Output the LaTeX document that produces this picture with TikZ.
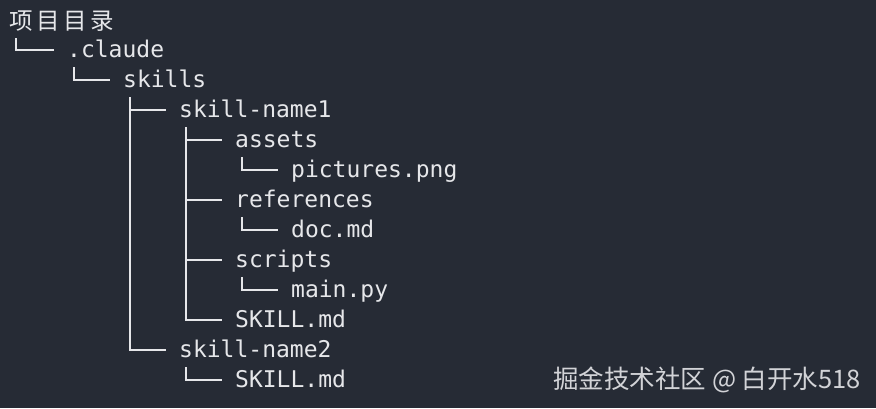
\documentclass[tikz,border=0pt]{standalone}
\usepackage{fontspec}
\setmonofont{DejaVu Sans Mono}
\newfontfamily\cjkfont{Noto Sans CJK SC}
\newfontfamily\cjkwide[LetterSpace=15]{Noto Sans CJK SC}
\usetikzlibrary{calc}

\definecolor{termbg}{HTML}{262B35}
\definecolor{termfg}{HTML}{E6E7EA}
\definecolor{markfg}{HTML}{D2D3D7}

\tikzset{
  entry/.style={anchor=west, inner sep=0pt, text height=14pt, text depth=0pt,
    text=termfg, font=\ttfamily\fontsize{23}{23}\selectfont},
  title/.style={anchor=west, inner sep=0pt, text=termfg,
    font=\cjkwide\fontsize{23.5}{23.5}\selectfont},
  branch/.style={draw=termfg, line width=1.8pt},
}

% tree connector: down from the parent's first column, across to the child
\newcommand{\treelink}[2]{\draw[branch] ($(#1.west)+(7,17)$) |- ([xshift=-13pt]#2.west);}

\begin{document}
\begin{tikzpicture}[x=1pt, y=-1pt]

% Terminal background
\fill[termbg] (0,0) rectangle (876,408);
\useasboundingbox (0,0) rectangle (876,408);

% Entries
\node[title] (root) at (9,21) {项目目录};
\node[entry] (claude)   at (67,50)   {.claude};
\node[entry] (skills)   at (123,80)  {skills};
\node[entry] (nameA)    at (179,110) {skill-name1};
\node[entry] (assets)   at (235,140) {assets};
\node[entry] (pictures) at (291,170) {pictures.png};
\node[entry] (refs)     at (235,200) {references};
\node[entry] (doc)      at (291,230) {doc.md};
\node[entry] (scripts)  at (235,260) {scripts};
\node[entry] (mainpy)   at (291,290) {main.py};
\node[entry] (skillA)   at (235,320) {SKILL.md};
\node[entry] (nameB)    at (179,350) {skill-name2};
\node[entry] (skillB)   at (235,380) {SKILL.md};

% Branches
\treelink{root}{claude}
\treelink{claude}{skills}
\treelink{skills}{nameA}
\treelink{skills}{nameB}
\treelink{nameA}{assets}
\treelink{nameA}{refs}
\treelink{nameA}{scripts}
\treelink{nameA}{skillA}
\treelink{assets}{pictures}
\treelink{refs}{doc}
\treelink{scripts}{mainpy}
\treelink{nameB}{skillB}

% Watermark
\node[anchor=east, inner sep=0pt, text=markfg, font=\cjkfont\fontsize{25.5}{25.5}\selectfont]
  (mark) at (861,380) {掘金技术社区 @ 白开水518};

\end{tikzpicture}
\end{document}
